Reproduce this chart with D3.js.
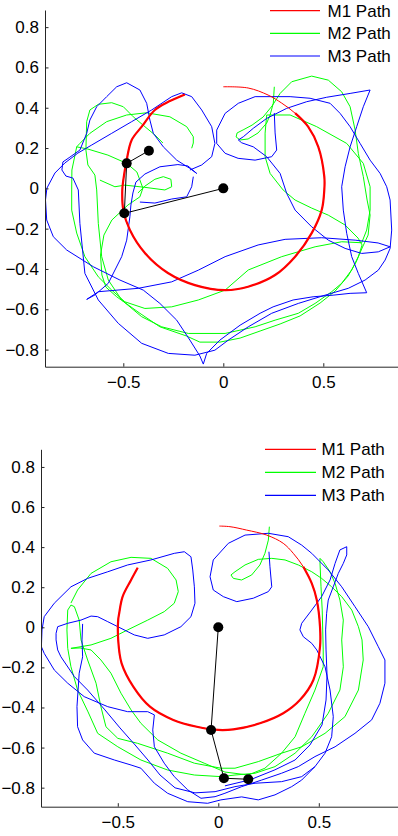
<!DOCTYPE html>
<html>
<head>
<meta charset="utf-8">
<script src="https://cdn.jsdelivr.net/npm/d3@7"></script>
<style>
  html, body { margin: 0; padding: 0; background: #fff; }
  svg { display: block; }
  text { font-family: "Liberation Sans", Arial, sans-serif; fill: #000; }
</style>
</head>
<body>
<script>
// ---------- DATA ----------
const xTicks = [-0.5, 0, 0.5];
const yTicks = [-0.8, -0.6, -0.4, -0.2, 0, 0.2, 0.4, 0.6, 0.8];
const legendLabels = ["M1 Path", "M2 Path", "M3 Path"];

// ---- panel 1 ----
const p1Red = [[0,0.504],[0.124,0.498],[0.224,0.463],[0.292,0.423],[0.359,0.373],[0.424,0.306],[0.475,0.206],[0.505,0.058],[0.505,-0.008],[0.492,-0.108],[0.442,-0.222],[0.359,-0.339],[0.259,-0.430],[0.124,-0.488],[0.009,-0.505],[-0.142,-0.480],[-0.277,-0.420],[-0.392,-0.321],[-0.467,-0.207],[-0.5,-0.108],[-0.505,-0.008],[-0.5,0.041],[-0.483,0.141],[-0.458,0.240],[-0.408,0.306],[-0.342,0.389],[-0.267,0.433],[-0.192,0.466]];

const p1Green = [
 [[0.255,0.504],[0.250,0.423],[0.234,0.364],[0.217,0.324],[0.174,0.275],[0.124,0.245],[0.084,0.240],[0.064,0.255],[0.069,0.275],[0.099,0.290],[0.144,0.314],[0.199,0.354],[0.244,0.409],[0.284,0.471],[0.342,0.529],[0.442,0.557],[0.525,0.537],[0.592,0.479],[0.634,0.405],[0.659,0.290],[0.675,0.174],[0.700,0.058],[0.719,-0.058],[0.734,-0.132],[0.724,-0.232],[0.694,-0.296],[0.664,-0.366],[0.624,-0.435],[0.559,-0.510],[0.484,-0.569],[0.384,-0.633],[0.284,-0.673],[0.184,-0.708],[0.084,-0.743],[-0.017,-0.763],[-0.117,-0.763],[-0.183,-0.733],[-0.317,-0.687],[-0.417,-0.620],[-0.533,-0.538],[-0.587,-0.490],[-0.607,-0.430],[-0.614,-0.331],[-0.597,-0.232],[-0.557,-0.157],[-0.477,-0.083],[-0.417,-0.042],[-0.402,0.001],[-0.432,0.081],[-0.483,0.124],[-0.577,0.165],[-0.677,0.195],[-0.733,0.206],[-0.717,0.223],[-0.667,0.273],[-0.583,0.331],[-0.483,0.364],[-0.383,0.375],[-0.267,0.355],[-0.183,0.306],[-0.150,0.256],[-0.150,0.225],[-0.158,0.199]],
 [[-0.302,0.225],[-0.342,0.265],[-0.392,0.306],[-0.450,0.355],[-0.500,0.405],[-0.558,0.425],[-0.625,0.417],[-0.667,0.389],[-0.683,0.331],[-0.687,0.190],[-0.677,0.116],[-0.642,0.066],[-0.633,-0.008],[-0.625,-0.174],[-0.608,-0.339],[-0.575,-0.455],[-0.508,-0.554],[-0.408,-0.637],[-0.308,-0.687],[-0.175,-0.720],[0.009,-0.720],[0.159,-0.687],[0.259,-0.654],[0.375,-0.620],[0.459,-0.571],[0.542,-0.513],[0.592,-0.471],[0.642,-0.405],[0.675,-0.339],[0.694,-0.281],[0.674,-0.247],[0.609,-0.182],[0.525,-0.133],[0.442,-0.098],[0.359,-0.058],[0.299,-0.008],[0.234,0.074],[0.209,0.157],[0.209,0.274],[0.217,0.364],[0.334,0.364],[0.467,0.306],[0.617,0.223],[0.700,0.124],[0.734,0.008],[0.734,-0.108],[0.717,-0.207],[0.692,-0.270],[0.592,-0.265],[0.459,-0.290],[0.292,-0.339],[0.125,-0.405],[0.009,-0.505],[-0.125,-0.554],[-0.258,-0.588],[-0.392,-0.596],[-0.492,-0.563],[-0.558,-0.505],[-0.625,-0.439],[-0.692,-0.339],[-0.733,-0.222],[-0.758,-0.108],[-0.758,-0.008],[-0.757,0.091],[-0.733,0.206]],
 [[-0.617,0.041],[-0.542,0.008],[-0.492,0.016],[-0.392,0.005],[-0.292,-0.008],[-0.258,0.008],[-0.262,0.045],[-0.300,0.058],[-0.342,0.045],[-0.392,0.011],[-0.427,-0.023]]
];

const p1Blue = [
 [[0.255,0.374],[0.259,0.275],[0.267,0.190],[0.242,0.157],[0.159,0.140],[0.074,0.149],[0.009,0.174],[-0.033,0.223],[-0.033,0.289],[0.009,0.372],[0.075,0.422],[0.159,0.455],[0.334,0.455],[0.434,0.447],[0.534,0.422],[0.584,0.372],[0.634,0.306],[0.684,0.223],[0.734,0.140],[0.784,0.074],[0.817,0.008],[0.834,-0.058],[0.842,-0.207],[0.834,-0.298],[0.809,-0.356],[0.775,-0.406],[0.709,-0.455],[0.625,-0.496],[0.509,-0.530],[0.375,-0.571],[0.242,-0.620],[0.125,-0.687],[0.025,-0.753],[-0.042,-0.803],[-0.142,-0.828],[-0.275,-0.819],[-0.408,-0.769],[-0.525,-0.670],[-0.625,-0.554],[-0.692,-0.422],[-0.717,-0.174],[-0.725,-0.008],[-0.752,0.051],[-0.787,0.061],[-0.807,0.091],[-0.802,0.131],[-0.767,0.155],[-0.717,0.190],[-0.683,0.273],[-0.667,0.339],[-0.633,0.405],[-0.583,0.455],[-0.533,0.504],[-0.483,0.524],[-0.417,0.488],[-0.383,0.422],[-0.367,0.339],[-0.350,0.273],[-0.300,0.206],[-0.233,0.140],[-0.167,0.099],[-0.133,0.074],[-0.177,0.111],[-0.227,0.118],[-0.317,0.107],[-0.392,0.071],[-0.437,0.031],[-0.452,-0.023],[-0.462,-0.083],[-0.467,-0.141],[-0.483,-0.257],[-0.508,-0.339],[-0.575,-0.471],[-0.642,-0.529],[-0.683,-0.551],[-0.625,-0.513],[-0.425,-0.496],[-0.258,-0.464],[-0.125,-0.406],[0.009,-0.339],[0.174,-0.281],[0.309,-0.253],[0.492,-0.245],[0.659,-0.257],[0.774,-0.271],[0.834,-0.290],[0.775,-0.315],[0.692,-0.323],[0.609,-0.298],[0.525,-0.257],[0.442,-0.191],[0.359,-0.108],[0.317,-0.025],[0.284,0.074],[0.217,0.157],[0.150,0.206],[0.092,0.226],[0.075,0.240],[0.100,0.256],[0.150,0.298],[0.217,0.347],[0.317,0.397],[0.417,0.430],[0.517,0.452],[0.634,0.471],[0.734,0.488],[0.700,0.405],[0.667,0.306],[0.634,0.206],[0.609,0.107],[0.592,0.008],[0.600,-0.108],[0.617,-0.223],[0.642,-0.339],[0.675,-0.422],[0.717,-0.518],[0.634,-0.521],[0.549,-0.530],[0.449,-0.538],[0.349,-0.554],[0.249,-0.588],[0.184,-0.620],[0.084,-0.679],[-0.017,-0.753],[-0.083,-0.819],[-0.100,-0.872],[-0.117,-0.832],[-0.167,-0.753],[-0.233,-0.654],[-0.317,-0.571],[-0.400,-0.505],[-0.517,-0.455],[-0.650,-0.389],[-0.783,-0.306],[-0.850,-0.240],[-0.883,-0.157],[-0.889,-0.058],[-0.882,0.001],[-0.842,0.076],[-0.792,0.126],[-0.727,0.175],[-0.658,0.215],[-0.558,0.273],[-0.458,0.331],[-0.358,0.389],[-0.258,0.455],[-0.208,0.474],[-0.158,0.455],[-0.108,0.389],[-0.058,0.306],[-0.042,0.223],[-0.058,0.157],[-0.108,0.116],[-0.167,0.091]],
 [[-0.150,0.058],[-0.158,0.008],[-0.183,-0.042],[-0.258,-0.053],[-0.342,-0.073],[-0.417,-0.068]]
];
const p1Arm = [[0,0],[-0.495,-0.124],[-0.483,0.124],[-0.372,0.187]];

// ---- panel 2 ----
const p2Red = [[0.005,0.505],[0.058,0.502],[0.141,0.485],[0.241,0.460],[0.323,0.419],[0.373,0.369],[0.423,0.302],[0.465,0.219],[0.490,0.136],[0.506,0.003],[0.506,-0.097],[0.473,-0.263],[0.406,-0.363],[0.323,-0.429],[0.207,-0.479],[0.075,-0.509],[0,-0.512],[-0.107,-0.496],[-0.224,-0.462],[-0.340,-0.396],[-0.423,-0.296],[-0.481,-0.180],[-0.498,-0.063],[-0.498,0.036],[-0.493,0.070],[-0.476,0.153],[-0.434,0.236],[-0.401,0.297]];

const p2Green = [
 [[0.254,0.502],[0.249,0.435],[0.232,0.369],[0.207,0.311],[0.166,0.261],[0.116,0.236],[0.075,0.244],[0.063,0.261],[0.083,0.277],[0.133,0.311],[0.199,0.339],[0.266,0.344],[0.332,0.336],[0.398,0.311],[0.465,0.277],[0.514,0.244],[0.564,0.202],[0.614,0.153],[0.664,0.086],[0.697,0.003],[0.715,-0.063],[0.721,-0.163],[0.697,-0.313],[0.630,-0.446],[0.531,-0.529],[0.415,-0.596],[0.315,-0.628],[0.199,-0.670],[0.083,-0.703],[0.013,-0.703],[-0.119,-0.678],[-0.252,-0.628],[-0.401,-0.579],[-0.500,-0.554],[-0.559,-0.496],[-0.584,-0.396],[-0.608,-0.279],[-0.650,-0.163],[-0.683,-0.063],[-0.692,0.036],[-0.716,0.103],[-0.733,0.111],[-0.749,0.086],[-0.753,-0.013],[-0.749,-0.105],[-0.733,-0.197],[-0.700,-0.313],[-0.648,-0.422],[-0.600,-0.529],[-0.500,-0.596],[-0.385,-0.662],[-0.252,-0.712],[-0.119,-0.737],[0.013,-0.745],[0.083,-0.737],[0.183,-0.728],[0.282,-0.695],[0.382,-0.628],[0.465,-0.546],[0.547,-0.429],[0.605,-0.313],[0.622,-0.197],[0.614,-0.063],[0.622,0.036],[0.605,0.136],[0.581,0.219],[0.556,0.277],[0.522,0.327],[0.506,0.344],[0.506,0.321],[0.511,0.202],[0.517,0.086],[0.522,-0.113],[0.522,-0.197],[0.481,-0.313],[0.431,-0.429],[0.382,-0.546],[0.315,-0.628],[0.232,-0.703],[0.149,-0.737],[0.033,-0.722],[-0.070,-0.678],[-0.186,-0.628],[-0.301,-0.562],[-0.385,-0.479],[-0.434,-0.412],[-0.484,-0.329],[-0.534,-0.229],[-0.584,-0.163],[-0.633,-0.113],[-0.688,-0.103],[-0.733,-0.105],[-0.633,-0.088],[-0.534,-0.055],[-0.451,-0.013],[-0.351,0.036],[-0.269,0.078],[-0.219,0.120],[-0.199,0.178],[-0.210,0.236],[-0.252,0.294],[-0.335,0.344],[-0.434,0.349],[-0.534,0.327],[-0.633,0.269],[-0.700,0.186],[-0.733,0.121]]
];

const p2Blue = [
 [[0.252,0.377],[0.257,0.302],[0.266,0.202],[0.249,0.178],[0.174,0.145],[0.092,0.128],[0.025,0.153],[-0.025,0.186],[-0.041,0.252],[-0.025,0.336],[0.050,0.419],[0.133,0.460],[0.249,0.469],[0.348,0.452],[0.415,0.410],[0.465,0.369],[0.547,0.286],[0.614,0.202],[0.680,0.103],[0.746,0.003],[0.796,-0.097],[0.829,-0.163],[0.829,-0.279],[0.804,-0.379],[0.763,-0.462],[0.680,-0.529],[0.581,-0.596],[0.481,-0.645],[0.398,-0.695],[0.315,-0.728],[0.216,-0.762],[0.116,-0.795],[0.033,-0.828],[-0.016,-0.845],[-0.086,-0.853],[-0.152,-0.811],[-0.219,-0.745],[-0.269,-0.678],[-0.318,-0.596],[-0.326,-0.512],[-0.318,-0.437],[-0.351,-0.421],[-0.451,-0.421],[-0.550,-0.396],[-0.667,-0.346],[-0.749,-0.279],[-0.816,-0.213],[-0.866,-0.130],[-0.880,-0.097],[-0.877,-0.013],[-0.866,0.053],[-0.816,0.120],[-0.733,0.202],[-0.650,0.244],[-0.550,0.277],[-0.451,0.311],[-0.335,0.336],[-0.219,0.369],[-0.169,0.377],[-0.136,0.352],[-0.127,0.286],[-0.119,0.202],[-0.116,0.120],[-0.136,0.053],[-0.186,0.003],[-0.269,-0.038],[-0.351,-0.055],[-0.418,-0.038],[-0.484,-0.005],[-0.550,0.028],[-0.600,0.053],[-0.633,0.056],[-0.683,0.036],[-0.749,0.020],[-0.799,0.003],[-0.807,-0.030],[-0.807,-0.063],[-0.799,-0.113],[-0.783,-0.147],[-0.716,-0.246],[-0.650,-0.313],[-0.564,-0.412],[-0.489,-0.502],[-0.414,-0.587],[-0.350,-0.662],[-0.290,-0.737],[-0.215,-0.801],[-0.116,-0.826],[-0.016,-0.820],[0.083,-0.795],[0.183,-0.778],[0.315,-0.770],[0.415,-0.745],[0.481,-0.695],[0.531,-0.628],[0.564,-0.546],[0.572,-0.446],[0.556,-0.313],[0.531,-0.197],[0.490,-0.113],[0.465,-0.080],[0.423,-0.047],[0.406,-0.013],[0.415,0.020],[0.465,0.086],[0.514,0.153],[0.556,0.236],[0.581,0.319],[0.605,0.386],[0.639,0.402],[0.639,0.361],[0.622,0.319],[0.597,0.269],[0.572,0.202],[0.547,0.136],[0.539,0.070],[0.534,-0.013],[0.536,-0.113],[0.541,-0.238],[0.536,-0.363],[0.516,-0.487],[0.456,-0.587],[0.382,-0.662],[0.282,-0.711],[0.158,-0.761],[0.033,-0.791]],
 [[-0.675,0.017],[-0.678,-0.063],[-0.675,-0.147],[-0.692,-0.229],[-0.703,-0.396],[-0.700,-0.496],[-0.675,-0.562],[-0.617,-0.628],[-0.517,-0.662],[-0.434,-0.687],[-0.385,-0.703],[-0.318,-0.778],[-0.252,-0.828],[-0.152,-0.870],[-0.053,-0.878],[0.013,-0.861],[0.116,-0.846],[0.199,-0.861],[0.282,-0.836],[0.365,-0.795],[0.415,-0.762],[0.481,-0.695]]
];
const p2Arm = [[0,0],[-0.036,-0.512],[0.028,-0.753],[0.149,-0.758]];

// ---------- LAYOUT ----------
const W = 398, H = 836;
const COLORS = { red: "#ff0000", green: "#00ff00", blue: "#0000ff", arm: "#000000" };

const panels = [
  { red: p1Red, green: p1Green, blue: p1Blue, arm: p1Arm, redThickFrom: 4,
    xDom: [-0.8915, 0.8735], xRange: [45, 398],
    yDom: [-0.885, 0.885], yRange: [366.7, 10],
    legend: { x1: 270, x2: 320, tx: 327.5, ys: [10.7, 33.3, 56] } },
  { red: p2Red, green: p2Green, blue: p2Blue, arm: p2Arm, redThickFrom: 6,
    xDom: [-0.882, 0.894], xRange: [41, 398],
    yDom: [-0.895, 0.888], yRange: [806.7, 449.3],
    legend: { x1: 265, x2: 316, tx: 321.5, ys: [449.3, 472.3, 495.3] } }
];

const svg = d3.select("body").append("svg")
  .attr("width", W).attr("height", H).attr("viewBox", `0 0 ${W} ${H}`);

const fmt = d => d === 0 ? "0" : String(d).replace("-", "\u2212");

panels.forEach((p, i) => {
  const x = d3.scaleLinear().domain(p.xDom).range(p.xRange);
  const y = d3.scaleLinear().domain(p.yDom).range(p.yRange);
  const g = svg.append("g").attr("class", "panel" + (i + 1));

  const clipId = "clip" + i;
  svg.append("clipPath").attr("id", clipId).append("rect")
    .attr("x", p.xRange[0]).attr("y", p.yRange[1])
    .attr("width", p.xRange[1] - p.xRange[0] + 5)
    .attr("height", p.yRange[0] - p.yRange[1]);

  const plot = g.append("g").attr("clip-path", `url(#${clipId})`);
  const line = d3.line().x(d => x(d[0])).y(d => y(d[1]));
  const smooth = d3.line().x(d => x(d[0])).y(d => y(d[1])).curve(d3.curveCatmullRom);

  // green paths (M2)
  plot.selectAll("path.green").data(p.green).join("path")
    .attr("class", "green").attr("d", line)
    .attr("fill", "none").attr("stroke", COLORS.green).attr("stroke-width", 1)
    .attr("stroke-linejoin", "round");
  // blue paths (M3)
  plot.selectAll("path.blue").data(p.blue).join("path")
    .attr("class", "blue").attr("d", line)
    .attr("fill", "none").attr("stroke", COLORS.blue).attr("stroke-width", 1)
    .attr("stroke-linejoin", "round");
  // red path (M1)
  plot.append("path").datum(p.red).attr("d", smooth)
    .attr("fill", "none").attr("stroke", COLORS.red).attr("stroke-width", 1);
  plot.append("path").datum(p.red.slice(p.redThickFrom)).attr("d", smooth)
    .attr("fill", "none").attr("stroke", COLORS.red).attr("stroke-width", 2.2);

  // arm
  plot.append("path").datum(p.arm).attr("d", line)
    .attr("fill", "none").attr("stroke", COLORS.arm).attr("stroke-width", 1);
  plot.selectAll("circle.joint").data(p.arm).join("circle")
    .attr("class", "joint").attr("cx", d => x(d[0])).attr("cy", d => y(d[1]))
    .attr("r", 5).attr("fill", "#000");

  // axes
  const xAxis = d3.axisBottom(x).tickValues(xTicks).tickFormat(fmt).tickSizeInner(-3.5).tickSizeOuter(0).tickPadding(9);
  const yAxis = d3.axisLeft(y).tickValues(yTicks).tickFormat(fmt).tickSizeInner(-3.5).tickSizeOuter(0).tickPadding(6);
  const gx = g.append("g").attr("transform", `translate(0,${p.yRange[0]})`).call(xAxis);
  const gy = g.append("g").attr("transform", `translate(${p.xRange[0]},0)`).call(yAxis);
  [gx, gy].forEach(a => {
    a.select(".domain").attr("stroke", "#262626").attr("stroke-width", 1);
    a.selectAll(".tick line").attr("stroke", "#262626");
    a.selectAll(".tick text").attr("fill", "#000")
      .style("font-family", '"Liberation Sans", Arial, sans-serif').style("font-size", "17px");
  });

  // legend
  const lg = g.append("g").attr("class", "legend");
  const lcol = [COLORS.red, COLORS.green, COLORS.blue];
  legendLabels.forEach((lab, k) => {
    const ly = p.legend.ys[k];
    lg.append("line").attr("x1", p.legend.x1).attr("x2", p.legend.x2)
      .attr("y1", ly).attr("y2", ly).attr("stroke", lcol[k]).attr("stroke-width", 1.2);
    lg.append("text").attr("x", p.legend.tx).attr("y", ly + 6)
      .style("font-size", "17px").text(lab);
  });
});
</script>
</body>
</html>
